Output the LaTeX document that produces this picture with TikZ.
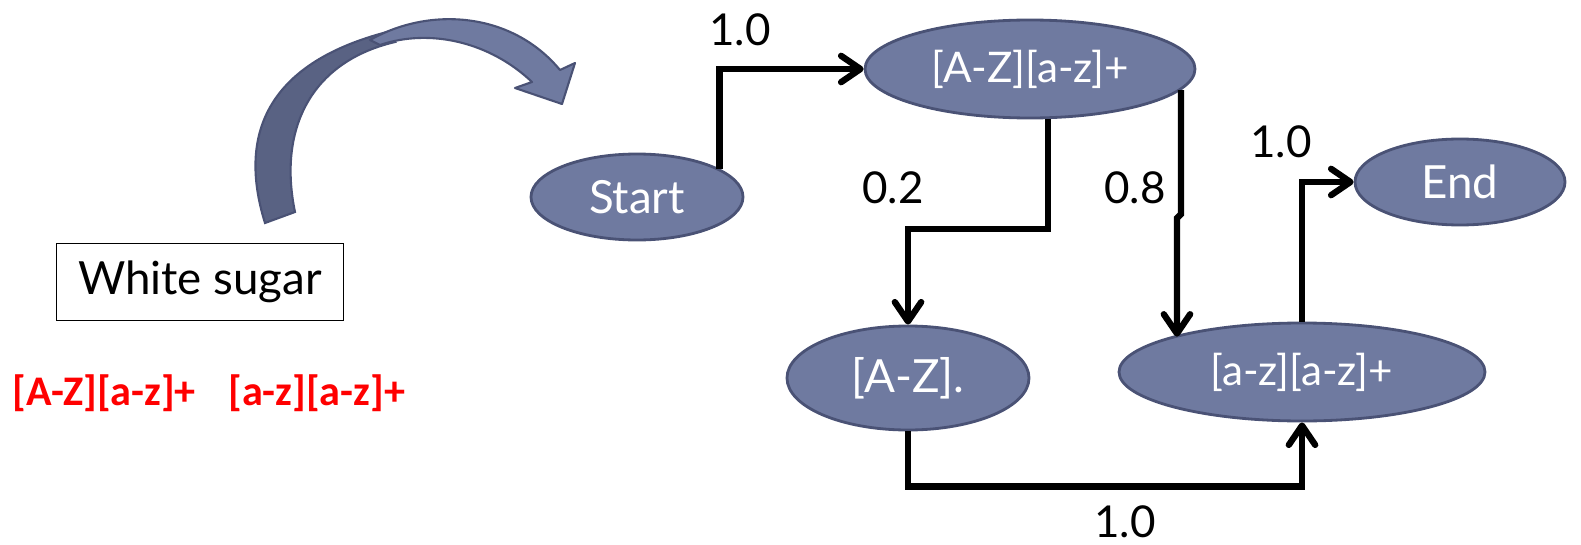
\documentclass[tikz,border=0pt]{standalone}
\usepackage{fontspec}
\setmainfont{Lato}
\newfontfamily\regexfont{Carlito}
\usetikzlibrary{shapes.geometric,arrows.meta}

\definecolor{statefill}{RGB}{111,122,160}
\definecolor{stateline}{RGB}{74,82,117}
\definecolor{arcback}{RGB}{89,98,131}

\tikzset{
  state/.style={ellipse, draw=stateline, line width=1.6pt, fill=statefill,
    text=white, inner sep=0pt, font=\fontsize{26}{30}\selectfont},
  link/.style={line width=3.6pt, line join=miter,
    -{Straight Barb[round,length=11pt,width=15pt]}},
  weight/.style={inner sep=0pt, font=\fontsize{25}{30}\selectfont},
  regex/.style={inner sep=0pt, anchor=west, text=red,
    font=\regexfont\bfseries\fontsize{24}{28}\selectfont}
}

\begin{document}
\begin{tikzpicture}[x=0.2mm,y=-0.2mm]
  \useasboundingbox (0,0) rectangle (1581,545);

  % curved arrow, back part first
  \draw[fill=arcback, draw=stateline, line width=1.2pt]
    (265,223) .. controls (236,130) and (272,62) .. (387,32)
    -- (395,42) .. controls (310,62) and (278,130) .. (295,212) -- cycle;
  \draw[fill=statefill, draw=stateline, line width=1.2pt, line join=round]
    (370,40) .. controls (430,6) and (512,12) .. (560,70)
    -- (575,63) -- (562,104) -- (515,88) -- (532,82)
    .. controls (490,42) and (430,28) .. (380,45) -- cycle;

  \node[draw, line width=1pt, minimum width=57.4mm, minimum height=15.4mm,
    inner sep=0pt, font=\fontsize{26}{30}\selectfont] (sugar) at (200,282) {White sugar};
  \node[regex] (re1) at (12,393) {[A-Z][a-z]+};
  \node[regex] (re2) at (228,393) {[a-z][a-z]+};

  % states
  \node[state, minimum width=42.4mm, minimum height=17.2mm] (start) at (637,197) {Start};
  \node[state, minimum width=66mm, minimum height=19.6mm,
    font=\fontsize{24}{28}\selectfont] (upper) at (1030,69) {[A-Z][a-z]+};
  \node[state, minimum width=48.4mm, minimum height=20.8mm] (cap) at (908,378) {[A-Z].};
  \node[state, minimum width=73.2mm, minimum height=19.6mm,
    font=\fontsize{24}{28}\selectfont] (low) at (1302,372) {[a-z][a-z]+};
  \node[state, minimum width=42mm, minimum height=17.2mm] (end) at (1460,182) {End};

  % transitions
  \draw[link] (start.19) |- (upper.west);
  \draw[link] (upper.-70) -- ++(0,110) -| (cap.north);
  \draw[link] (upper.-8) -- ++(0,124) -- ++(-4,4) coordinate (jog) -- (jog |- low.165);
  \draw[link] (low.north) |- (end.west);
  \draw[link] (cap.south) -- ++(0,55) -| (low.south);

  \node[weight] (w1) at (740,30) {1.0};
  \node[weight] (w2) at (893,188) {0.2};
  \node[weight] (w3) at (1135,188) {0.8};
  \node[weight] (w4) at (1281,142) {1.0};
  \node[weight] (w5) at (1125,522) {1.0};
\end{tikzpicture}
\end{document}
